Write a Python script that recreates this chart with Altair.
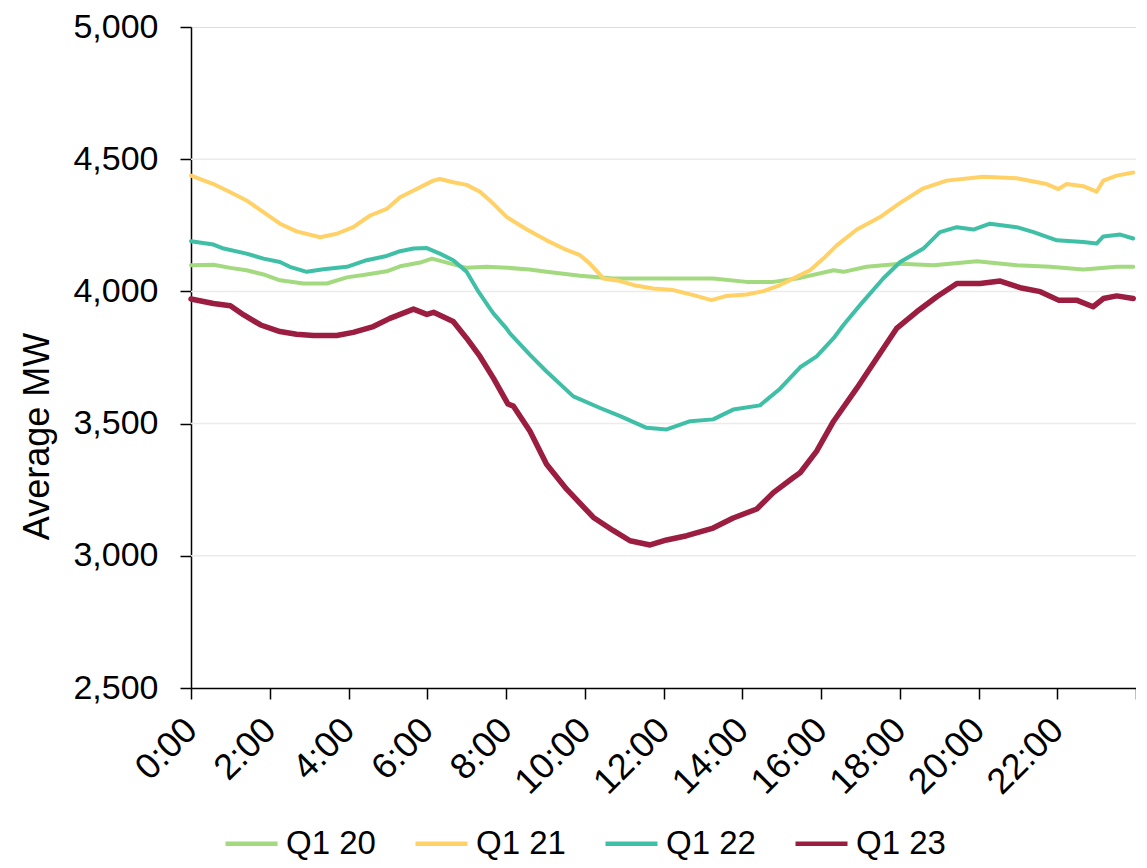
import altair as alt
import pandas as pd

FONT = "Liberation Sans"

series_names = ["Q1 20", "Q1 21", "Q1 22", "Q1 23"]
series_colors = ["#a3d97f", "#ffd166", "#40bfa7", "#9b1d40"]

hours_q120 = [0.0, 0.57, 1.0, 1.41, 1.84, 2.26, 2.86, 3.45, 3.96, 4.46, 4.97, 5.31, 5.82, 6.12,
              6.5, 7.0, 7.5, 8.05, 8.6, 9.03, 9.88, 10.72, 11.57, 12.42, 13.26, 14.11, 14.79,
              15.47, 16.32, 16.57, 17.16, 18.01, 18.86, 19.96, 20.97, 21.82, 22.66, 23.51, 23.93]
mw_q120 = [4099, 4101, 4089, 4080, 4064, 4042, 4030, 4030, 4053, 4064, 4076, 4095, 4109, 4124,
           4109, 4089, 4093, 4089, 4083, 4074, 4059, 4049, 4049, 4049, 4049, 4036, 4036,
           4051, 4080, 4074, 4093, 4105, 4099, 4114, 4099, 4093, 4083, 4093, 4093]

hours_q121 = [0.0, 0.57, 1.0, 1.41, 1.84, 2.26, 2.68, 3.28, 3.70, 4.12, 4.55, 4.97, 5.31, 5.73,
              6.15, 6.32, 6.66, 7.0, 7.34, 7.59, 8.02, 8.53, 9.03, 9.46, 9.88, 10.13, 10.47,
              10.9, 11.32, 11.74, 12.25, 12.76, 13.22, 13.6, 14.11, 14.54, 14.96, 15.38, 15.72,
              16.06, 16.4, 16.91, 17.5, 18.01, 18.6, 19.19, 20.12, 20.97, 21.73, 22.03, 22.24,
              22.66, 23.0, 23.17, 23.51, 23.93]
mw_q121 = [4438, 4406, 4375, 4344, 4300, 4256, 4227, 4205, 4218, 4243, 4287, 4312, 4356, 4387,
           4419, 4425, 4413, 4403, 4377, 4344, 4281, 4234, 4193, 4162, 4137, 4105, 4049,
           4039, 4021, 4011, 4005, 3986, 3967, 3983, 3988, 4001, 4024, 4055, 4080,
           4124, 4174, 4234, 4281, 4335, 4390, 4419, 4434, 4428, 4406, 4387, 4406,
           4398, 4377, 4419, 4438, 4450]

hours_q122 = [0.0, 0.57, 0.83, 1.41, 1.84, 2.26, 2.51, 2.94, 3.36, 3.96, 4.46, 4.97, 5.31, 5.65,
              5.99, 6.32, 6.66, 7.0, 7.3, 7.59, 7.68, 8.01, 8.1, 8.61, 9.03, 9.71, 10.39, 10.9,
              11.57, 12.08, 12.68, 13.26, 13.77, 14.45, 14.96, 15.47, 15.89, 16.32, 16.57, 16.99,
              17.58, 18.01, 18.6, 19.02, 19.45, 19.87, 20.29, 20.97, 21.4, 21.99, 22.66, 23.0,
              23.17, 23.6, 23.93]
mw_q122 = [4190, 4177, 4162, 4143, 4124, 4111, 4093, 4074, 4084, 4093, 4118, 4134, 4152, 4162,
           4164, 4143, 4118, 4074, 3999, 3936, 3917, 3860, 3841, 3760, 3697, 3603, 3559, 3528,
           3484, 3478, 3509, 3516, 3553, 3569, 3632, 3713, 3754, 3823, 3873, 3948,
           4049, 4111, 4162, 4224, 4243, 4234, 4256, 4243, 4224, 4193, 4187, 4181,
           4208, 4215, 4200]

hours_q123 = [0.0, 0.57, 1.0, 1.34, 1.77, 2.26, 2.68, 3.11, 3.7, 4.12, 4.63, 5.05, 5.65, 5.99,
              6.16, 6.66, 7.0, 7.34, 7.68, 8.05, 8.19, 8.61, 9.03, 9.54, 10.22, 10.73, 11.15,
              11.66, 12.08, 12.59, 13.26, 13.77, 14.37, 14.79, 15.3, 15.47, 15.89, 16.32, 16.91,
              17.42, 17.92, 18.43, 18.94, 19.45, 20.04, 20.55, 21.06, 21.57, 22.03, 22.49, 22.91,
              23.17, 23.51, 23.93]
mw_q123 = [3971, 3954, 3946, 3911, 3873, 3848, 3838, 3833, 3833, 3845, 3867, 3898, 3933, 3913,
           3921, 3886, 3823, 3754, 3672, 3574, 3566, 3471, 3346, 3252, 3145, 3095, 3057,
           3041, 3060, 3076, 3105, 3143, 3177, 3239, 3296, 3314, 3396, 3509, 3634,
           3748, 3860, 3923, 3980, 4030, 4030, 4039, 4014, 3999, 3967, 3967, 3942,
           3973, 3983, 3973]

x_ticks = [0, 2, 4, 6, 8, 10, 12, 14, 16, 18, 20, 22, 24]
y_ticks = [2500, 3000, 3500, 4000, 4500, 5000]
grid_values = [3000, 3500, 4000, 4500]

rows = []
for name, hs, vs in zip(series_names,
                        [hours_q120, hours_q121, hours_q122, hours_q123],
                        [mw_q120, mw_q121, mw_q122, mw_q123]):
    for h, v in zip(hs, vs):
        rows.append({"series": name, "hour": h, "mw": v})
df = pd.DataFrame(rows)
grid_df = pd.DataFrame({"mw": grid_values})

x_enc = alt.X(
    "hour:Q",
    scale=alt.Scale(domain=[0, 24], nice=False, zero=False),
    axis=alt.Axis(
        values=x_ticks,
        labelExpr="datum.value < 24 ? datum.value + ':00' : ''",
        labelAngle=-45, labelAlign="right", labelBaseline="middle",
        labelFontSize=36, labelFont=FONT, labelColor="black",
        labelPadding=25, labelOverlap=False, labelFlush=False,
        tickSize=11, tickColor="black", tickWidth=1.5,
        domainColor="black", domainWidth=1.5,
        grid=False, title=None,
    ),
)
y_enc = alt.Y(
    "mw:Q",
    scale=alt.Scale(domain=[2500, 5000], nice=False, zero=False),
    axis=alt.Axis(
        values=y_ticks,
        labelExpr="format(datum.value, ',')",
        labelFontSize=34, labelFont=FONT, labelColor="black",
        labelPadding=22, labelOverlap=False, labelFlush=False,
        tickSize=11, tickColor="black", tickWidth=1.5,
        domainColor="black", domainWidth=1.5,
        grid=False,
        title="Average MW", titleFont=FONT, titleFontSize=36,
        titleFontWeight="normal", titleColor="black",
        titleAngle=270, titleAlign="center", titleBaseline="middle",
        titleX=-154, titleY=409,
    ),
)

color_enc = alt.Color(
    "series:N",
    scale=alt.Scale(domain=series_names, range=series_colors),
    legend=alt.Legend(
        title=None, orient="none", direction="horizontal",
        legendX=32, legendY=788,
        symbolType="stroke", symbolSize=2704, symbolStrokeWidth=4.5,
        labelFont=FONT, labelFontSize=33, labelColor="black",
        labelOffset=6, columnPadding=30,
    ),
)

grid = alt.Chart(grid_df).mark_rule(color="#ebebeb", strokeWidth=1.5).encode(
    y=y_enc
)

thin = alt.Chart(df).transform_filter(
    alt.datum.series != "Q1 23"
).mark_line(strokeWidth=4, strokeJoin="round", strokeCap="round").encode(
    x=x_enc, y=y_enc, color=color_enc
)
thick = alt.Chart(df).transform_filter(
    alt.datum.series == "Q1 23"
).mark_line(strokeWidth=5.5, strokeJoin="round", strokeCap="round").encode(
    x=x_enc, y=y_enc, color=color_enc
)

chart = alt.layer(grid, thin, thick).properties(
    width=945, height=661,
    autosize=alt.AutoSizeParams(type="none"),
    padding={"left": 183, "top": 19, "right": 0, "bottom": 172},
).configure_view(stroke=None).configure(background="white")

chart.save("out.html", embed_options={"renderer": "svg", "actions": False})
